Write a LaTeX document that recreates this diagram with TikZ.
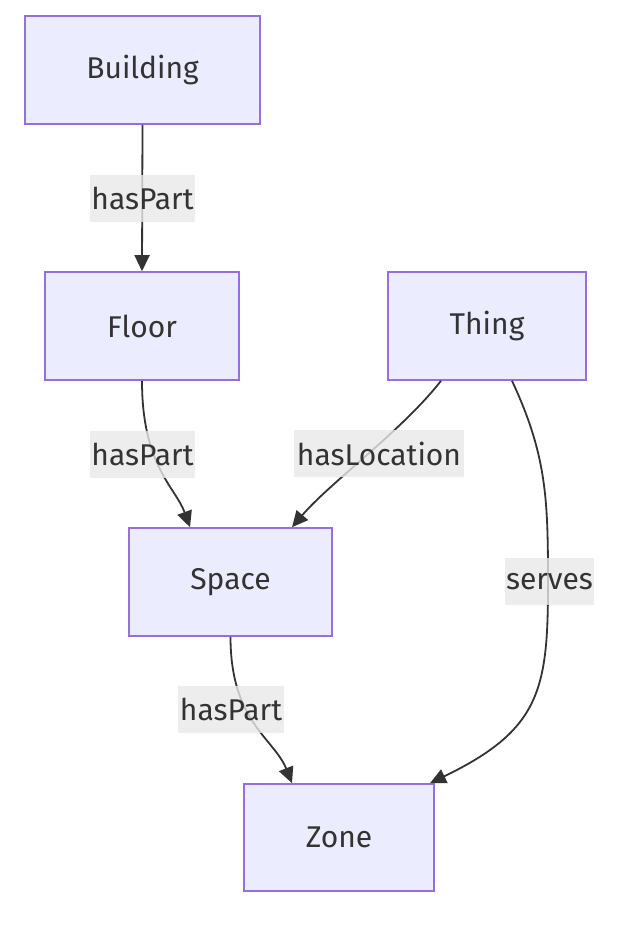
\documentclass[tikz,border=0pt]{standalone}
\usepackage{fontspec}
\setmainfont{Fira Sans}
\usetikzlibrary{arrows.meta,calc}
\definecolor{nodefill}{HTML}{ECECFF}
\definecolor{nodeline}{HTML}{9370DB}
\definecolor{ink}{HTML}{333333}
\definecolor{lblbg}{HTML}{E8E8E8}
\begin{document}
\begin{tikzpicture}[x=1pt,y=-1pt,
  box/.style={draw=nodeline,fill=nodefill,line width=1.6pt,text=ink,
    font=\fontsize{30}{34}\selectfont,inner sep=0pt},
  lbl/.style={fill=lblbg,fill opacity=0.8,text opacity=1,text=ink,
    font=\fontsize{30}{34}\selectfont,inner sep=0pt,minimum height=47pt},
  conn/.style={draw=ink,line width=1.8pt,-{Triangle[length=16pt,width=15pt]}}]
\useasboundingbox (0,0) rectangle (622,926);
\node[box,minimum width=235pt,minimum height=108pt] (building) at (142.5,70) {Building};
\node[box,minimum width=194pt,minimum height=108pt] (floor) at (142,326) {Floor};
\node[box,minimum width=198pt,minimum height=108pt] (thing) at (487,326) {Thing};
\node[box,minimum width=203pt,minimum height=108pt] (space) at (230.5,582) {Space};
\node[box,minimum width=190pt,minimum height=107pt] (zone) at (339,837.5) {Zone};
% connectors
\draw[conn] (building.south) -- (floor.north);
\draw[conn] (floor.south) .. controls ($(floor.south)+(0,85)$) and ($(space.north)+(-55,-40)$) .. ($(space.north)+(-40.5,0)$);
\draw[conn] ($(thing.south)+(-46,0)$) .. controls ($(thing.south)+(-85,50)$) and ($(space.north)+(100,-45)$) .. ($(space.north)+(61.5,0)$);
\coordinate (mid) at (548,584);
\draw[conn] ($(thing.south)+(25,0)$) .. controls ($(thing.south)+(60,75)$) and (548,500) .. (mid) .. controls (548,690) and (540,730) .. ($(zone.north)+(91,0)$);
\draw[conn] (space.south) .. controls ($(space.south)+(0,85)$) and ($(zone.north)+(-65,-45)$) .. ($(zone.north)+(-47,0)$);
% labels
\node[lbl,minimum width=105pt] (l1) at (142.5,198.5) {hasPart};
\node[lbl,minimum width=105pt] (l2) at (142.5,454.5) {hasPart};
\node[lbl,minimum width=170pt] (l3) at (379,453.5) {hasLocation};
\node[lbl,minimum width=89pt] (l4) at (549.5,581.5) {serves};
\node[lbl,minimum width=106pt] (l5) at (231,709.5) {hasPart};
\end{tikzpicture}
\end{document}
